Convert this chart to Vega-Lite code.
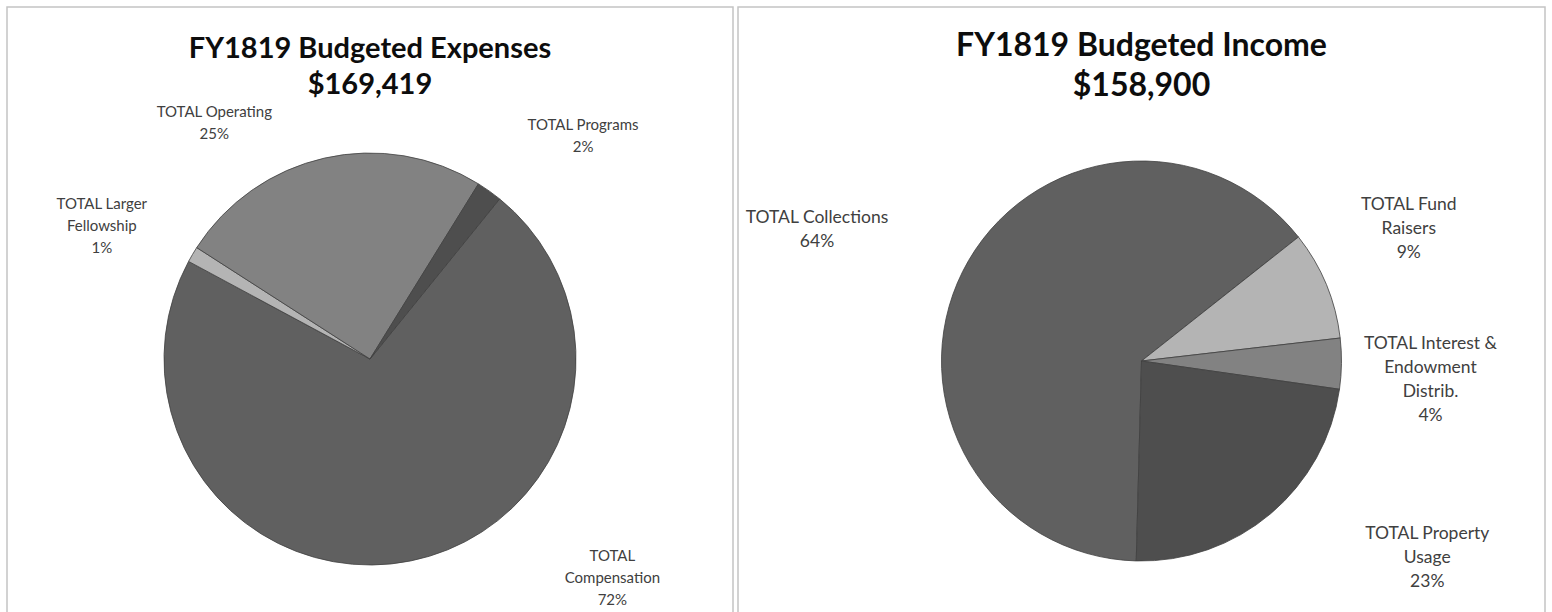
{
  "$schema": "https://vega.github.io/schema/vega-lite/v6.json",
  "padding": {"left": 6, "top": 6, "right": 0, "bottom": 0},
  "spacing": 3,
  "background": "white",
  "config": {
    "view": {"stroke": "#c4c4c4", "strokeWidth": 1.5},
    "font": "Lato"
  },
  "hconcat": [
    {
      "width": 726,
      "height": 606,
      "view": {"stroke": "#c4c4c4", "strokeWidth": 1.5},
      "title": {
        "text": ["FY1819 Budgeted Expenses", "$169,419"],
        "font": "Lato",
        "fontSize": 29,
        "fontWeight": "bold",
        "lineHeight": 36,
        "color": "#0d0d0d",
        "anchor": "middle",
        "frame": "group",
        "offset": -93
      },
      "data": {
        "values": [
          {"cat": "TOTAL Compensation", "amount": 122019, "idx": 1, "label": "TOTAL\nCompensation\n72%"},
          {"cat": "TOTAL Larger Fellowship", "amount": 2100, "idx": 2, "label": "TOTAL Larger\nFellowship\n1%"},
          {"cat": "TOTAL Operating", "amount": 41900, "idx": 3, "label": "TOTAL Operating\n25%"},
          {"cat": "TOTAL Programs", "amount": 3400, "idx": 4, "label": "TOTAL Programs\n2%"}
        ]
      },
      "encoding": {
        "theta": {"field": "amount", "type": "quantitative", "stack": true, "scale": {"range": [0.6807, 6.9639]}},
        "order": {"field": "idx", "type": "quantitative"}
      },
      "layer": [
        {
          "mark": {"type": "arc", "radius": 206, "y": {"expr": "height/2 + 49"}, "stroke": "#404040", "strokeWidth": 0.8},
          "encoding": {
            "color": {
              "field": "cat", "type": "nominal", "legend": null,
              "scale": {
                "domain": ["TOTAL Compensation", "TOTAL Larger Fellowship", "TOTAL Operating", "TOTAL Programs"],
                "range": ["#606060", "#b4b4b4", "#828282", "#4e4e4e"]
              }
            }
          }
        },
        {
          "mark": {
            "type": "text", "radius": 266, "y": {"expr": "height/2 + 49"},
            "dx": {"expr": "datum.idx == 1 ? 190 : datum.idx == 2 ? -39 : datum.idx == 3 ? -97 : 59"},
            "dy": {"expr": "datum.idx == 1 ? -64 : datum.idx == 2 ? -20 : datum.idx == 3 ? 12 : -17"},
            "lineBreak": "\n", "lineHeight": 22, "font": "Lato", "fontSize": 15,
            "fill": "#404040", "align": "center", "baseline": "middle"
          },
          "encoding": {"text": {"field": "label", "type": "nominal"}}
        }
      ]
    },
    {
      "width": 807,
      "height": 606,
      "view": {"stroke": "#c4c4c4", "strokeWidth": 1.5},
      "title": {
        "text": ["FY1819 Budgeted Income", "$158,900"],
        "font": "Lato",
        "fontSize": 32,
        "fontWeight": "bold",
        "lineHeight": 40,
        "color": "#0d0d0d",
        "anchor": "middle",
        "frame": "group",
        "offset": -96
      },
      "data": {
        "values": [
          {"cat": "TOTAL Collections", "amount": 101600, "idx": 1, "label": "TOTAL Collections\n64%"},
          {"cat": "TOTAL Fund Raisers", "amount": 14000, "idx": 2, "label": "TOTAL Fund\nRaisers\n9%"},
          {"cat": "TOTAL Interest & Endowment Distrib.", "amount": 6500, "idx": 3, "label": "TOTAL Interest &\nEndowment\nDistrib.\n4%"},
          {"cat": "TOTAL Property Usage", "amount": 36800, "idx": 4, "label": "TOTAL Property\nUsage\n23%"}
        ]
      },
      "encoding": {
        "theta": {"field": "amount", "type": "quantitative", "stack": true, "scale": {"range": [3.1678, 9.4510]}},
        "order": {"field": "idx", "type": "quantitative"}
      },
      "layer": [
        {
          "mark": {"type": "arc", "radius": 200, "y": {"expr": "height/2 + 51"}, "stroke": "#404040", "strokeWidth": 0.8},
          "encoding": {
            "color": {
              "field": "cat", "type": "nominal", "legend": null,
              "scale": {
                "domain": ["TOTAL Collections", "TOTAL Fund Raisers", "TOTAL Interest & Endowment Distrib.", "TOTAL Property Usage"],
                "range": ["#606060", "#b4b4b4", "#828282", "#4b4b4b"]
              }
            }
          }
        },
        {
          "mark": {
            "type": "text", "radius": 260, "y": {"expr": "height/2 + 51"},
            "dx": {"expr": "datum.idx == 1 ? -92 : datum.idx == 2 ? 27 : datum.idx == 3 ? 29 : 118"},
            "dy": {"expr": "datum.idx == 1 ? -27 : datum.idx == 2 ? -57 : datum.idx == 3 ? -20 : -26"},
            "lineBreak": "\n", "lineHeight": 24, "font": "Lato", "fontSize": 17.5,
            "fill": "#404040", "align": "center", "baseline": "middle"
          },
          "encoding": {"text": {"field": "label", "type": "nominal"}}
        }
      ]
    }
  ]
}
